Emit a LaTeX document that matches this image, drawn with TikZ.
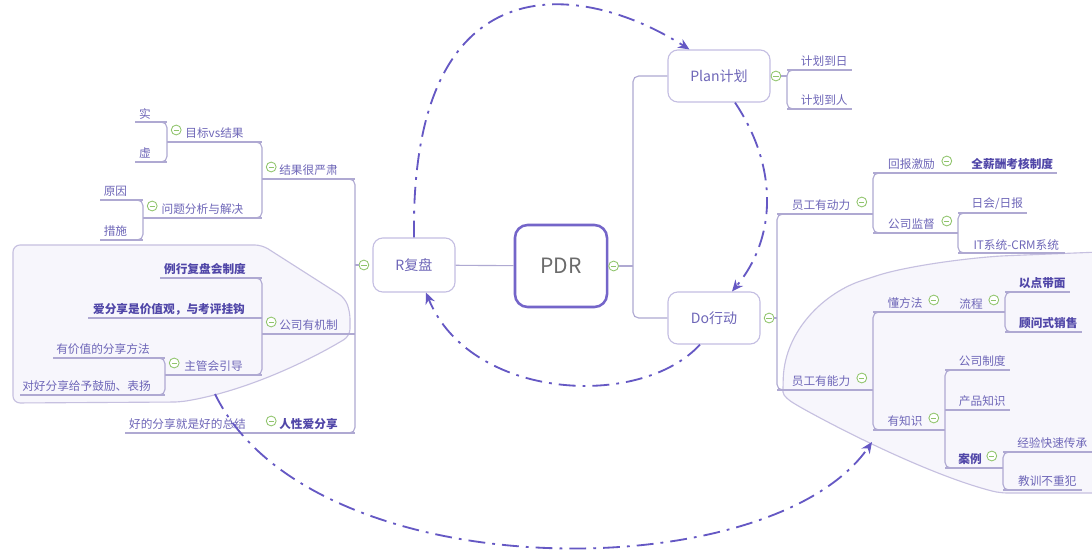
\documentclass[tikz,border=0pt]{standalone}
\usepackage{fontspec}
\setmainfont{Noto Sans CJK SC}
\usepackage{xcolor}
\usetikzlibrary{positioning, arrows.meta, calc}

\definecolor{mmtext}{HTML}{6E66B8}
\definecolor{mmdark}{HTML}{5046A8}
\definecolor{mmline}{HTML}{AFA9D2}
\definecolor{mmbox}{HTML}{C4BEE2}
\definecolor{mmcore}{HTML}{7465C9}
\definecolor{mmfold}{HTML}{8FC46B}
\definecolor{mmhull}{HTML}{F7F6FC}
\definecolor{mmhulledge}{HTML}{C6C0E0}
\definecolor{mmrel}{HTML}{6558C4}

\begin{document}
\begin{tikzpicture}[
    x=0.025cm, y=-0.025cm,
    font=\fontsize{8.3}{10}\selectfont,
    % ---- 中心与一级主题 ----
    core/.style={
        draw=mmcore,
        line width=1.8pt,
        rounded corners=9pt,
        fill=white,
        text=black!58,
        font=\fontsize{15}{18}\selectfont,
        minimum width=2.3cm,
        minimum height=2.05cm
    },
    mainbox/.style={
        draw=mmbox,
        line width=0.8pt,
        rounded corners=7pt,
        fill=white,
        text=mmtext,
        font=\fontsize{10}{12}\selectfont,
        inner sep=0pt
    },
    % ---- 分支文字 ----
    topic/.style={text=mmtext, inner sep=2pt, anchor=south},
    strong/.style={text=mmdark, font=\fontsize{8.3}{10}\selectfont\bfseries},
    shiftL/.style={xshift=-0.15cm},
    shiftR/.style={xshift=0.12cm},
    % ---- 分支线 ----
    branch/.style={draw=mmline, line width=0.8pt, rounded corners=4pt},
    % ---- 折叠标记 ----
    fold/.style={
        circle,
        draw=mmfold,
        fill=white,
        line width=0.6pt,
        minimum size=7pt,
        inner sep=0pt,
        path picture={\draw[mmfold, line width=0.6pt]
            ([xshift=-1.9pt]path picture bounding box.center) --
            ([xshift=1.9pt]path picture bounding box.center);}
    },
    % ---- 外框 ----
    hull/.style={draw=mmhulledge, fill=mmhull, line width=0.8pt, rounded corners=5pt},
    % ---- 关系线 ----
    rel/.style={
        draw=mmrel,
        line width=1.3pt,
        dash pattern=on 12pt off 5pt on 2pt off 5pt,
        -{Stealth[length=8pt, width=7pt]}
    }
]

% ---- 分支宏 ----
\newcommand{\topic}[6][]{%
    \coordinate (#2-l) at (#3,#5);
    \coordinate (#2-r) at (#4,#5);
    \node[topic, #1] (#2) at ({(#3+#4)/2},#5) {#6};
    \draw[branch] (#2-l) -- (#2-r);
}
\newcommand{\foldR}[1]{\node[fold] (f#1) at ([xshift=-0.28cm, yshift=0.3cm]#1-r) {};}
\newcommand{\foldL}[1]{\node[fold] (f#1) at ([xshift=0.23cm, yshift=0.3cm]#1-l) {};}

\useasboundingbox (0,0) rectangle (1092,559);
\fill[white] (0,0) rectangle (1092,559);

% ---------- 外框 ----------
\draw[hull] (13,403) -- (13,245) -- (262,245) -- (345,298) -- (350,312) -- (350,336)
    .. controls (300,366) and (240,392) .. (180,402) -- cycle;
\draw[hull] (1100,252) -- (1000,256) .. controls (950,260) and (900,268) .. (870,278)
    .. controls (825,292) and (785,330) .. (783,385)
    .. controls (783,396) and (790,401) .. (800,407)
    .. controls (860,440) and (940,478) .. (1000,493) -- (1100,493) -- cycle;
\coordinate (MechHull) at (215,394);
\coordinate (AbilHull) at (872,442);

% ---------- 中心 ----------
\node[core] (PDR) at (561,266) {PDR};
\node[mainbox, minimum width=2.05cm, minimum height=1.35cm] (Rev) at (414,265) {R复盘};
\node[mainbox, minimum width=2.55cm, minimum height=1.3cm] (Plan) at (719,76) {Plan计划};
\node[mainbox, minimum width=2.3cm, minimum height=1.3cm] (Do) at (714,318) {Do行动};

\node[fold, right=0pt of PDR] (fPDR) {};
\node[fold, left=0.08cm of Rev] (fRev) {};
\node[fold, right=0pt of Plan] (fPlan) {};
\node[fold, right=0.08cm of Do] (fDo) {};

\coordinate (PDRfork) at (633,266);
\draw[branch] (Rev) -- (PDR);
\draw[branch] (fPDR) -- (PDRfork);
\draw[branch] (Plan.west) -| (PDRfork) |- (Do.west);

% ---------- Plan计划 ----------
\topic[shiftR]{PlanDay}{787}{852}{70}{计划到日}
\topic[shiftR]{PlanMan}{787}{852}{109}{计划到人}
\draw[branch] ([xshift=0.2cm]PlanDay-l) -- (PlanDay-l) -- (PlanMan-l) -- ([xshift=0.2cm]PlanMan-l);
\draw[branch] (fPlan) -- (fPlan -| PlanDay-l);

% ---------- Do行动 ----------
\topic[xshift=-0.1cm]{Motive}{777}{873}{214}{员工有动力} \foldR{Motive}
\topic[xshift=-0.1cm]{Ability}{777}{873}{390}{员工有能力} \foldR{Ability}
\draw[branch] ([xshift=0.2cm]Motive-l) -- (Motive-l) -- (Ability-l) -- ([xshift=0.2cm]Ability-l);
\draw[branch] (fDo) -- (fDo -| Motive-l);

% 员工有动力
\topic[xshift=-0.1cm]{Reward}{873}{958}{173}{回报激励} \foldR{Reward}
\topic[strong, shiftR]{RewardSys}{958}{1057}{173}{全薪酬考核制度}
\topic[xshift=-0.1cm]{Supervise}{873}{958}{233}{公司监督} \foldR{Supervise}
\draw[branch] ([xshift=0.2cm]Reward-l) -- (Reward-l) -- (Supervise-l) -- ([xshift=0.2cm]Supervise-l);
\topic[shiftR]{Daily}{958}{1027}{213}{日会/日报}
\topic[shiftR]{ITSys}{958}{1065}{253}{IT系统-CRM系统}
\draw[branch] ([xshift=0.2cm]Daily-l) -- (Daily-l) -- (ITSys-l) -- ([xshift=0.2cm]ITSys-l);

% 员工有能力
\topic[xshift=-0.1cm]{Method}{873}{945}{312}{懂方法} \foldR{Method}
\topic[xshift=-0.1cm]{Process}{945}{1005}{312}{流程} \foldR{Process}
\topic[strong, shiftR]{Point}{1005}{1070}{292}{以点带面}
\topic[strong, shiftR]{Consult}{1005}{1082}{332}{顾问式销售}
\draw[branch] ([xshift=0.2cm]Point-l) -- (Point-l) -- (Consult-l) -- ([xshift=0.2cm]Consult-l);
\topic[xshift=-0.1cm]{Know}{873}{945}{430}{有知识} \foldR{Know}
\draw[branch] ([xshift=0.2cm]Method-l) -- (Method-l) -- (Know-l) -- ([xshift=0.2cm]Know-l);
\topic[shiftR]{Rules}{945}{1010}{370}{公司制度}
\topic[shiftR]{Product}{945}{1010}{410}{产品知识}
\topic[strong, xshift=-0.1cm]{Case}{945}{1003}{468}{案例} \foldR{Case}
\draw[branch] ([xshift=0.2cm]Rules-l) -- (Rules-l) -- (Case-l) -- ([xshift=0.2cm]Case-l);
\topic[shiftR]{Exp}{1003}{1092}{452}{经验快速传承}
\topic[shiftR]{Lesson}{1003}{1082}{490}{教训不重犯}
\draw[branch] ([xshift=0.2cm]Exp-l) -- (Exp-l) -- (Lesson-l) -- ([xshift=0.2cm]Lesson-l);

% ---------- R复盘 ----------
\topic{Result}{262}{355}{179}{结果很严肃} \foldL{Result}
\topic{Mech}{262}{355}{334}{公司有机制} \foldL{Mech}
\topic[strong]{Nature}{262}{355}{433}{人性爱分享} \foldL{Nature}
\draw[branch] ([xshift=-0.2cm]Result-r) -- (Result-r) -- (Nature-r) -- ([xshift=-0.2cm]Nature-r);
\draw[branch] (fRev) -- (fRev -| Result-r);

% 结果很严肃
\topic{Goal}{167}{262}{142}{目标vs结果} \foldL{Goal}
\topic{Problem}{143}{262}{218}{问题分析与解决} \foldL{Problem}
\draw[branch] ([xshift=-0.2cm]Goal-r) -- (Goal-r) -- (Problem-r) -- ([xshift=-0.2cm]Problem-r);
\topic[shiftL]{Real}{135}{167}{122}{实}
\topic[shiftL]{Virtual}{135}{167}{162}{虚}
\draw[branch] ([xshift=-0.2cm]Real-r) -- (Real-r) -- (Virtual-r) -- ([xshift=-0.2cm]Virtual-r);
\topic[shiftL]{Cause}{100}{143}{200}{原因}
\topic[shiftL]{Measure}{100}{143}{240}{措施}
\draw[branch] ([xshift=-0.2cm]Cause-r) -- (Cause-r) -- (Measure-r) -- ([xshift=-0.2cm]Measure-r);

% 公司有机制
\topic[strong, shiftL]{Routine}{160}{262}{278}{例行复盘会制度}
\topic[strong, shiftL]{Value}{88}{262}{318}{爱分享是价值观，与考评挂钩}
\topic{Guide}{165}{262}{375}{主管会引导} \foldL{Guide}
\draw[branch] ([xshift=-0.2cm]Routine-r) -- (Routine-r) -- (Guide-r) -- ([xshift=-0.2cm]Guide-r);
\topic[shiftL]{Share}{53}{165}{358}{有价值的分享方法}
\topic[shiftL]{Praise}{20}{165}{395}{对好分享给予鼓励、表扬}
\draw[branch] ([xshift=-0.2cm]Share-r) -- (Share-r) -- (Praise-r) -- ([xshift=-0.2cm]Praise-r);

% 人性爱分享
\topic[shiftL]{Summary}{125}{262}{433}{好的分享就是好的总结}

% ============================================================
%  关系线
% ============================================================

% 复盘 ── 计划
\draw[rel] (Rev.north) .. controls (410,-40) and (580,-20) .. ([xshift=0.55cm]Plan.north west);

% 计划 ── 行动
\draw[rel] ([xshift=0.4cm]Plan.south) .. controls (780,170) and (775,240) .. ([xshift=0.45cm]Do.north);

% 行动 ── 复盘
\draw[rel] ([xshift=-0.35cm]Do.south) .. controls (640,410) and (470,400) .. ([xshift=0.3cm]Rev.south);

% 公司有机制 ── 员工有能力
\draw[rel] (MechHull) .. controls (310,590) and (770,590) .. (AbilHull);

\end{tikzpicture}
\end{document}
